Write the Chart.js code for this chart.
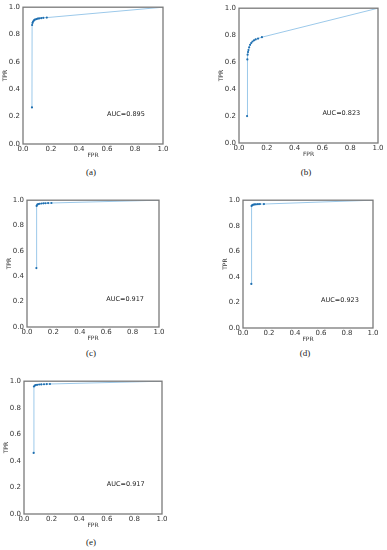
<!DOCTYPE html>
<html>
<head>
<meta charset="utf-8">
<script src="https://cdn.jsdelivr.net/npm/chart.js@4.4.0/dist/chart.umd.min.js"></script>
<style>
  html, body { margin: 0; padding: 0; background: #fff; }
  body { width: 387px; height: 550px; position: relative; overflow: hidden; }
  .box { position: absolute; }
  .cap { position: absolute; font-family: 'Liberation Serif', 'DejaVu Serif', serif; font-size: 9px; color: #222; transform: translateX(-50%); }
</style>
</head>
<body>
<div class="box" id="wa"><canvas id="ca"></canvas></div>
<div class="box" id="wb"><canvas id="cb"></canvas></div>
<div class="box" id="wc"><canvas id="cc"></canvas></div>
<div class="box" id="wd"><canvas id="cd"></canvas></div>
<div class="box" id="we"><canvas id="ce"></canvas></div>
<div class="cap" style="left:91px;top:167px">(a)</div>
<div class="cap" style="left:306px;top:167px">(b)</div>
<div class="cap" style="left:91px;top:348px">(c)</div>
<div class="cap" style="left:305px;top:348px">(d)</div>
<div class="cap" style="left:91px;top:537px">(e)</div>
<script>
Chart.defaults.font.family = "'DejaVu Sans', sans-serif";
Chart.defaults.color = '#333';

const TICKS = [0, 0.2, 0.4, 0.6, 0.8, 1.0];

// ROC points
const fprA = [0.064, 0.065, 0.068, 0.072, 0.078, 0.085, 0.095, 0.105, 0.115, 0.13, 0.145, 0.17, 1];
const tprA = [0.267, 0.87, 0.885, 0.895, 0.903, 0.909, 0.913, 0.916, 0.918, 0.92, 0.922, 0.924, 1];

const fprB = [0.058, 0.06, 0.062, 0.065, 0.068, 0.073, 0.08, 0.088, 0.097, 0.108, 0.12, 0.137, 0.165, 1];
const tprB = [0.2, 0.62, 0.655, 0.675, 0.69, 0.71, 0.728, 0.742, 0.753, 0.762, 0.768, 0.775, 0.785, 1];

const fprC = [0.071, 0.073, 0.078, 0.085, 0.095, 0.11, 0.125, 0.14, 0.16, 0.185, 1];
const tprC = [0.465, 0.955, 0.965, 0.97, 0.972, 0.974, 0.975, 0.976, 0.977, 0.978, 1];

const fprD = [0.064, 0.066, 0.072, 0.08, 0.09, 0.1, 0.115, 0.13, 0.161, 1];
const tprD = [0.345, 0.955, 0.962, 0.965, 0.967, 0.968, 0.969, 0.97, 0.97, 1];

const fprE = [0.07, 0.072, 0.078, 0.085, 0.095, 0.11, 0.125, 0.145, 0.165, 0.188, 1];
const tprE = [0.46, 0.96, 0.967, 0.971, 0.973, 0.975, 0.976, 0.977, 0.978, 0.979, 1];

const aucLabels = ['AUC=0.895', 'AUC=0.823', 'AUC=0.917', 'AUC=0.923', 'AUC=0.917'];

// axis box sizes around each plot area
const L = 21, B = 15, T = 6, R = 8;

const framePlugin = {
  id: 'frame',
  afterDatasetsDraw(chart, args, opts) {
    const { ctx, chartArea: a, scales } = chart;
    ctx.save();
    ctx.strokeStyle = '#7a7a7a';
    ctx.lineWidth = 1.3;
    ctx.strokeRect(a.left, a.top, a.right - a.left, a.bottom - a.top);
    ctx.fillStyle = '#222';
    ctx.font = "6.5px 'DejaVu Sans', sans-serif";
    ctx.textBaseline = 'middle';
    ctx.textAlign = 'left';
    ctx.fillText(opts.text, scales.x.getPixelForValue(0.6), scales.y.getPixelForValue(0.22));
    ctx.restore();
  }
};

function makeRoc(id, wrapId, pos, fpr, tpr, auc) {
  const [left, top, w, h] = pos;
  const wrap = document.getElementById(wrapId);
  wrap.style.left = (left - L) + 'px';
  wrap.style.top = (top - T) + 'px';
  wrap.style.width = (w + L + R) + 'px';
  wrap.style.height = (h + T + B) + 'px';
  const pts = fpr.map((x, i) => ({ x: x, y: tpr[i] }));
  const radii = fpr.map(x => x >= 1 ? 0 : 1.1);
  new Chart(document.getElementById(id), {
    type: 'scatter',
    data: {
      datasets: [{
        data: pts, showLine: true, borderColor: '#9cc9ea', borderWidth: 1,
        pointRadius: radii, pointBackgroundColor: '#1f6fb0', pointBorderWidth: 0
      }]
    },
    options: {
      responsive: true, maintainAspectRatio: false, animation: false,
      layout: { padding: { top: T, right: R, left: 0, bottom: 0 } },
      scales: {
        x: {
          type: 'linear', min: 0, max: 1,
          afterBuildTicks: s => { s.ticks = TICKS.map(v => ({ value: v })); },
          afterFit: s => { s.height = B; },
          grid: { display: false, drawTicks: false },
          border: { display: false },
          ticks: { font: { size: 7 }, padding: 1, callback: v => v.toFixed(1), maxRotation: 0 },
          title: { display: true, text: 'FPR', font: { size: 6 }, padding: 0, color: '#333' }
        },
        y: {
          type: 'linear', min: 0, max: 1,
          afterBuildTicks: s => { s.ticks = TICKS.map(v => ({ value: v })); },
          afterFit: s => { s.width = L; },
          grid: { display: false, drawTicks: false },
          border: { display: false },
          ticks: { font: { size: 7 }, padding: 3, callback: v => v.toFixed(1) },
          title: { display: true, text: 'TPR', font: { size: 6 }, padding: 0, color: '#333' }
        }
      },
      plugins: { legend: { display: false }, tooltip: { enabled: false }, frame: { text: auc } }
    },
    plugins: [framePlugin]
  });
}

makeRoc('ca', 'wa', [23, 6, 140, 138], fprA, tprA, aucLabels[0]);
makeRoc('cb', 'wb', [239, 7, 139, 136], fprB, tprB, aucLabels[1]);
makeRoc('cc', 'wc', [27, 199, 132, 128], fprC, tprC, aucLabels[2]);
makeRoc('cd', 'wd', [243, 199, 130, 129], fprD, tprD, aucLabels[3]);
makeRoc('ce', 'we', [24, 380, 138, 134], fprE, tprE, aucLabels[4]);
</script>
</body>
</html>
